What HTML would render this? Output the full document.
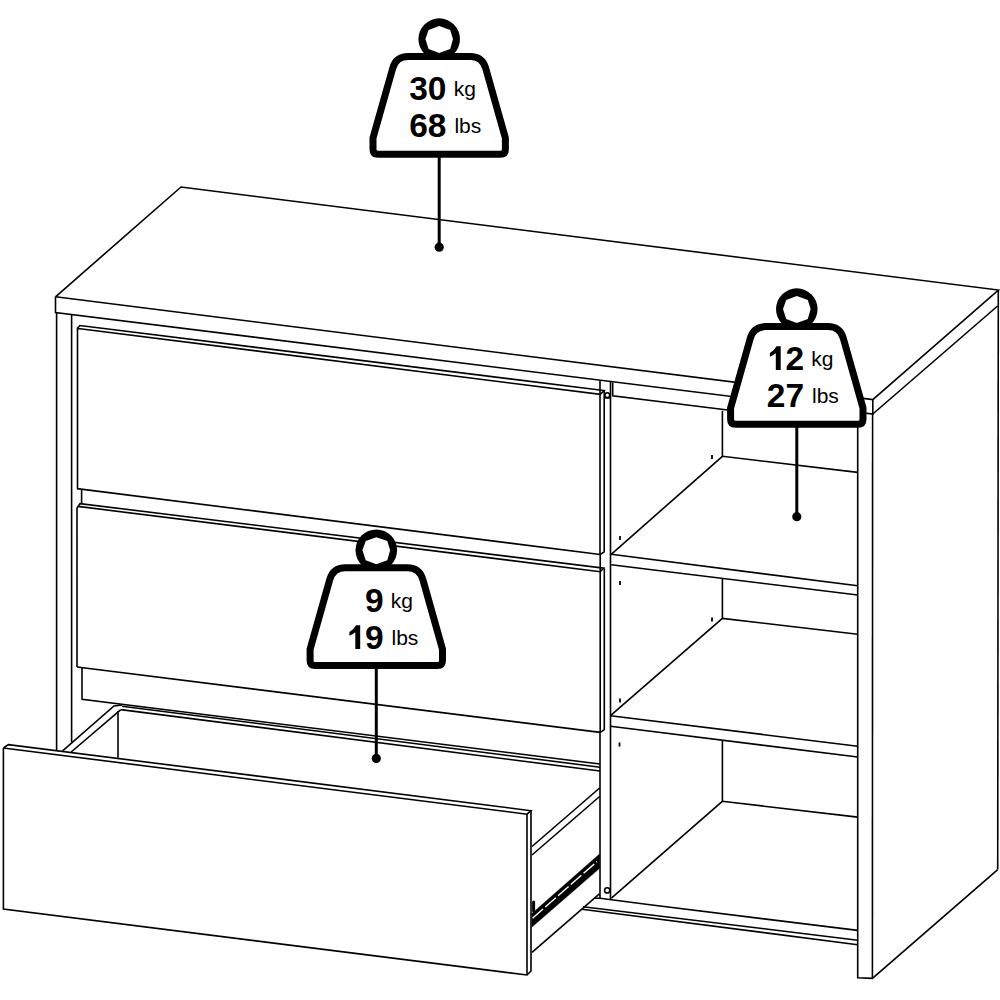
<!DOCTYPE html>
<html><head><meta charset="utf-8"><style>
html,body{margin:0;padding:0;background:#fff;width:1000px;height:1000px;overflow:hidden}
svg{display:block}
.b{font-family:"Liberation Sans",sans-serif;font-weight:bold;font-size:33.5px;fill:#000}
.r{font-family:"Liberation Sans",sans-serif;font-size:21px;fill:#000}
</style></head><body>
<svg width="1000" height="1000" viewBox="0 0 1000 1000">
<g fill="none" stroke="#000" stroke-width="1.6" stroke-linecap="butt" stroke-linejoin="miter">
<path d="M55.5 296.8 L181.0 187.0 L998.4 290.0 L872.8 399.6 L55.5 296.8"/>
<path d="M55.5 296.8 L55.5 312.5 L872.8 414.0 L872.8 399.6"/>
<path d="M872.8 414.0 L997.6 306.0"/>
<path d="M998.3 290.0 L997.7 869.6"/>
<path d="M56.6 312.5 L56.6 750.0"/>
<path d="M71.6 314.5 L71.6 742.0"/>
<path d="M872.6 414.0 L872.4 978.4"/>
<path d="M857.7 420.0 L857.7 977.7 L872.4 978.4 L997.7 869.6"/>
<path d="M77.5 488.6 L77.5 328.0 L80.0 325.5 L604.0 390.5 L600.2 394.3 L78.0 328.5"/>
<path d="M77.0 488.6 L600.2 554.5"/>
<path d="M600.0 380.6 L600.0 554.5"/>
<path d="M604.2 390.5 L604.2 551.8 L600.2 554.5"/>
<path d="M81.6 489.6 L81.6 503.4"/>
<path d="M77.0 667.0 L77.0 508.0 L80.0 503.6 L603.7 568.2 L600.2 571.7 L78.0 506.4"/>
<path d="M77.0 667.0 L600.2 732.4"/>
<path d="M600.2 554.5 L600.2 732.4"/>
<path d="M604.3 568.2 L604.3 729.6 L600.2 732.4"/>
<path d="M82.0 668.0 L82.0 699.3 L600.0 764.0"/>
<path d="M122.0 706.2 L600.0 767.2"/>
<path d="M120.8 709.6 L600.0 771.0"/>
<path d="M62.6 750.8 L114.0 706.0 L122.0 705.0"/>
<path d="M71.2 752.0 L120.8 709.6"/>
<path d="M118.0 711.0 L118.0 757.8"/>
<path d="M3.4 748.0 L8.4 744.6 L531.0 810.7 L527.0 814.2 L3.4 748.0"/>
<path d="M3.4 748.0 L3.4 909.0 L527.0 975.0 L531.0 971.0 L531.0 810.7"/>
<path d="M527.0 814.2 L527.0 975.0"/>
<path d="M532.0 846.5 L599.6 788.0"/>
<path d="M532.0 855.0 L599.6 796.5"/>
<path d="M532.0 952.4 L599.7 893.6"/>
<path d="M531.8 913.5 L599.7 853.8 L599.7 868.3 L531.8 927.3 Z" stroke-width="0.3" fill="#000"/>
<path d="M532.5 918.2 L597 861.6" stroke-width="1.4" stroke="#fff" stroke-dasharray="14 3"/>
<path d="M533.6 902 L533.6 911" stroke-width="3" stroke-linecap="round"/>
<path d="M600.0 731.0 L600.0 898.4"/>
<path d="M610.5 382.0 L610.5 899.0"/>
<path d="M594.0 898.2 L600.0 898.2 L650.0 904.8"/>
<path d="M612.7 382.6 L612.7 395.8 L857.7 426.0"/>
<path d="M607.3 395.2 m-2.4 0 a2.4 2.4 0 1 0 4.8 0 a2.4 2.4 0 1 0 -4.8 0" />
<path d="M604.2 397.9 L610.5 397.9"/>
<path d="M607.2 890.4 m-2.6 0 a2.6 2.6 0 1 0 5.2 0 a2.6 2.6 0 1 0 -5.2 0" />
<path d="M722.4 410.8 L722.4 456.3"/>
<path d="M722.4 578.8 L722.4 618.0"/>
<path d="M722.4 740.0 L722.4 801.3"/>
<path d="M611.2 554.3 L722.4 456.3 L857.7 472.4"/>
<path d="M611.2 554.3 L857.7 585.8"/>
<path d="M611.2 564.8 L857.7 595.0"/>
<path d="M610.5 715.6 L722.4 618.4 L857.7 634.3"/>
<path d="M610.5 715.8 L857.7 746.2"/>
<path d="M610.5 726.2 L857.7 757.0"/>
<path d="M611.4 898.2 L722.3 801.3 L857.7 817.1"/>
<path d="M650.0 904.8 L857.7 930.4"/>
<path d="M583.0 906.8 L857.7 940.2"/>
<path d="M582.0 909.2 L857.7 944.7"/>
<path d="M620 536 L620 540" stroke-width="1.8"/>
<path d="M620 581 L620 585" stroke-width="1.8"/>
<path d="M620 698.6 L620 702.6" stroke-width="1.8"/>
<path d="M619.5 742.5 L619.5 746.5" stroke-width="1.8"/>
<path d="M712 455 L712 459" stroke-width="1.8"/>
<path d="M712 617.4 L712 621.4" stroke-width="1.8"/>
</g>
<g stroke="#000">
<line x1="439.2" y1="153.6" x2="439.2" y2="247.2" stroke-width="3.0"/>
<circle cx="439.2" cy="247.2" r="4.6" fill="#000" stroke="none"/>
<circle cx="439.2" cy="39.1" r="20.8" fill="#000" stroke="none"/>
<polygon points="439.2,26.1 450.2,29.9 453.0,39.1 450.2,49.1 439.2,53.1 428.6,49.1 425.4,39.1 428.6,29.9" fill="#fff" stroke="none"/>
<path d="M408.2 56.6 L470.2 56.6 Q482.5 56.6 485.8 68.6 L505.4 138.0 L505.4 149.3 Q505.4 154.3 500.4 154.3 L378.0 154.3 Q373.0 154.3 373.0 149.3 L373.0 138.0 L392.6 68.6 Q395.9 56.6 408.2 56.6 Z" fill="#fff" stroke-width="7" stroke-linejoin="round"/>
<text x="446.5" y="100.0" class="b" text-anchor="end" stroke="none">30</text>
<text x="453.7" y="95.6" class="r" stroke="none">kg</text>
<text x="446.5" y="137.0" class="b" text-anchor="end" stroke="none">68</text>
<text x="454.4" y="133.0" class="r" stroke="none">lbs</text>
<line x1="796.8" y1="423.6" x2="796.8" y2="516.7" stroke-width="3.0"/>
<circle cx="796.8" cy="516.7" r="4.6" fill="#000" stroke="none"/>
<circle cx="796.8" cy="309.1" r="20.8" fill="#000" stroke="none"/>
<polygon points="796.8,296.1 807.8,299.9 810.6,309.1 807.8,319.1 796.8,323.1 786.2,319.1 783.0,309.1 786.2,299.9" fill="#fff" stroke="none"/>
<path d="M765.8 326.6 L827.8 326.6 Q840.1 326.6 843.4 338.6 L863.0 408.0 L863.0 419.3 Q863.0 424.3 858.0 424.3 L735.6 424.3 Q730.6 424.3 730.6 419.3 L730.6 408.0 L750.2 338.6 Q753.5 326.6 765.8 326.6 Z" fill="#fff" stroke-width="7" stroke-linejoin="round"/>
<path d="M780.70 370.00 V346.20 H776.50 Q774.90 349.70 769.90 352.90 V356.65 Q773.20 355.40 775.80 353.20 V370.00 Z" fill="#000" stroke="none"/>
<text x="804.0999999999999" y="370.0" class="b" text-anchor="end" stroke="none">2</text>
<text x="811.3" y="365.6" class="r" stroke="none">kg</text>
<text x="804.0999999999999" y="407.0" class="b" text-anchor="end" stroke="none">27</text>
<text x="812.0" y="403.0" class="r" stroke="none">lbs</text>
<line x1="376.3" y1="664.8" x2="376.3" y2="758.4" stroke-width="3.0"/>
<circle cx="376.3" cy="758.4" r="4.6" fill="#000" stroke="none"/>
<circle cx="376.3" cy="550.3" r="20.8" fill="#000" stroke="none"/>
<polygon points="376.3,537.3 387.3,541.1 390.1,550.3 387.3,560.3 376.3,564.3 365.7,560.3 362.5,550.3 365.7,541.1" fill="#fff" stroke="none"/>
<path d="M345.3 567.8 L407.3 567.8 Q419.6 567.8 422.9 579.8 L442.5 649.2 L442.5 660.5 Q442.5 665.5 437.5 665.5 L315.1 665.5 Q310.1 665.5 310.1 660.5 L310.1 649.2 L329.7 579.8 Q333.0 567.8 345.3 567.8 Z" fill="#fff" stroke-width="7" stroke-linejoin="round"/>
<text x="383.6" y="611.9999999999999" class="b" text-anchor="end" stroke="none">9</text>
<text x="390.8" y="607.5999999999999" class="r" stroke="none">kg</text>
<path d="M360.20 649.00 V625.20 H356.00 Q354.40 628.70 349.40 631.90 V635.65 Q352.70 634.40 355.30 632.20 V649.00 Z" fill="#000" stroke="none"/>
<text x="383.6" y="648.9999999999999" class="b" text-anchor="end" stroke="none">9</text>
<text x="391.5" y="644.9999999999999" class="r" stroke="none">lbs</text>
</g>
</svg>
</body></html>
